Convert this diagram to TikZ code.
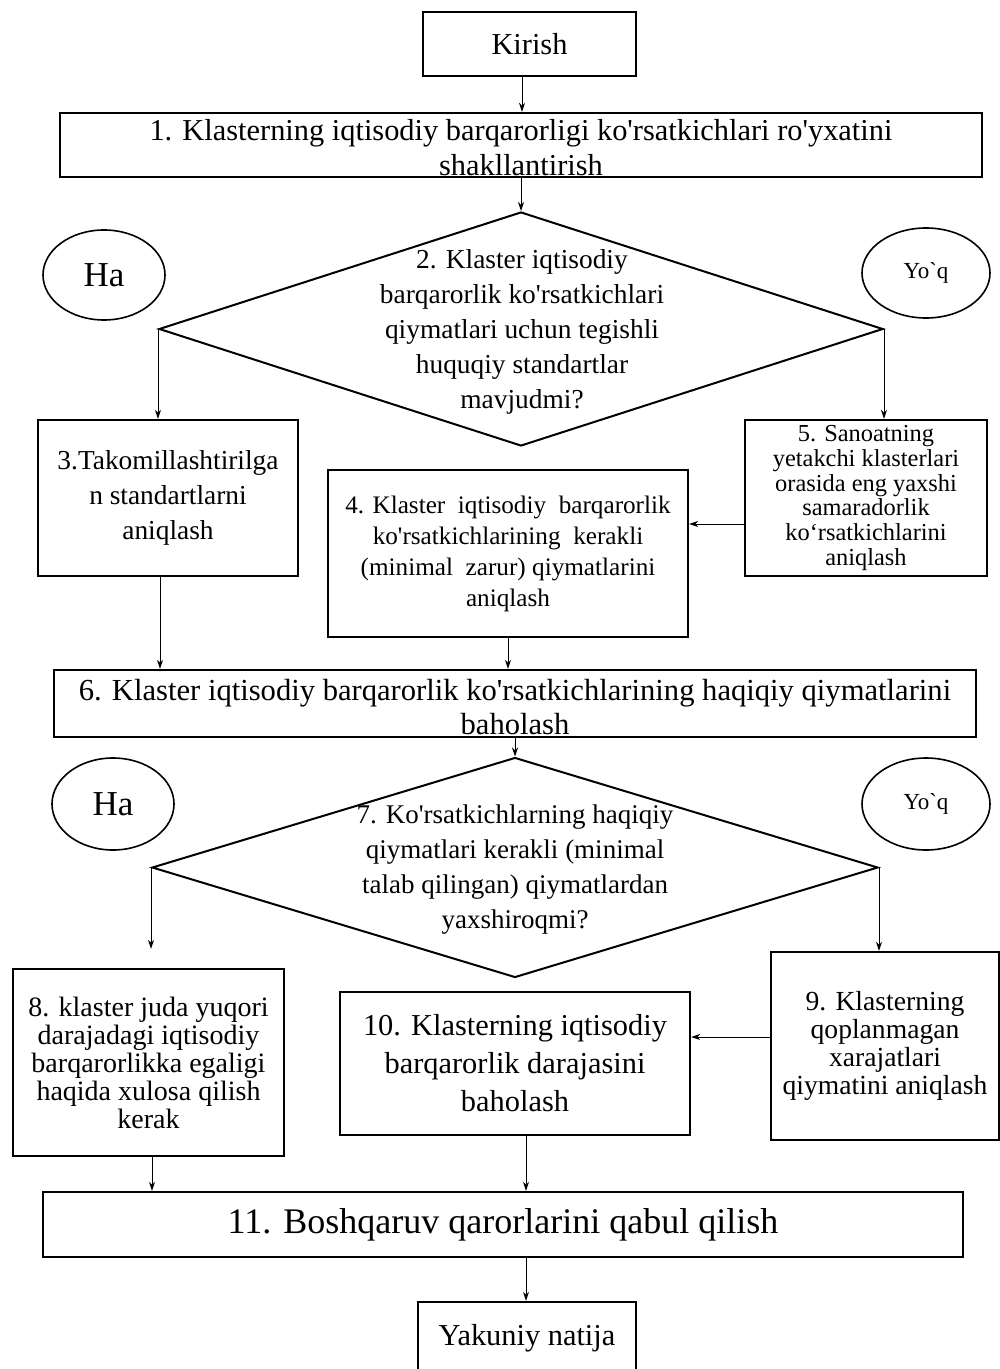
\documentclass[tikz,border=0pt]{standalone}
\usepackage{fontspec}
\newfontfamily\tnr{Liberation Serif}
\usetikzlibrary{shapes.geometric,arrows.meta}

\tikzset{
  box/.style={draw, line width=1.2pt, rectangle, inner sep=0pt, align=center},
  decision/.style={draw, line width=1pt, diamond, inner sep=0pt},
  reply/.style={draw, line width=0.8pt, ellipse, inner sep=0pt},
  lbl/.style={align=center, inner sep=0pt},
  flow/.style={-{Stealth[length=4.5pt,width=3pt]}, line width=0.5pt},
}

\begin{document}
\begin{tikzpicture}[x=0.5pt,y=-0.5pt]
\useasboundingbox[fill=white] (0,0) rectangle (1000,1369);

% helper columns and rows for the connectors
\coordinate (xa) at (522,0);
\coordinate (xb) at (160,0);
\coordinate (xc) at (152,0);
\coordinate (xd) at (526,0);
\coordinate (ya) at (0,524);
\coordinate (yb) at (0,1037);

% start
\node[box, minimum width=106.5pt, minimum height=32pt,
      font={\tnr\fontsize{15.2}{17.5}\selectfont}] (kir) at (529.5,44) {Kirish};

% step 1
\node[box, minimum width=461pt, minimum height=32pt] (b1) at (521,145) {};
\node[lbl, font={\tnr\fontsize{15.2}{17.5}\selectfont}] (t1) at (521,148)
  {1. Klasterning iqtisodiy barqarorligi ko'rsatkichlari ro'yxatini\\shakllantirish};

% decision 2
\node[decision, minimum width=362pt, minimum height=117pt] (d1) at (521,329) {};
\node[lbl, font={\tnr\fontsize{13.7}{17.5}\selectfont}] (t2) at (522,332)
  {2. Klaster iqtisodiy\\barqarorlik ko'rsatkichlari\\qiymatlari uchun tegishli\\huquqiy standartlar\\mavjudmi?};

\node[reply, minimum width=61pt, minimum height=45pt,
      font={\tnr\fontsize{17.5}{20}\selectfont}] (ha1) at (104,275) {Ha};
\node[reply, minimum width=64pt, minimum height=45pt,
      font={\tnr\fontsize{11.5}{13}\selectfont}] (yq1) at (926,273) {Yo`q};

% steps 3, 4, 5
\node[box, minimum width=130pt, minimum height=78pt,
      font={\tnr\fontsize{13.7}{17.5}\selectfont}] (b3) at (168,498)
  {3.Takomillashtirilga\\n standartlarni\\aniqlash};
\node[box, minimum width=121pt, minimum height=78pt,
      font={\tnr\fontsize{12.2}{12.4}\selectfont}] (b5) at (866,498)
  {5. Sanoatning\\yetakchi klasterlari\\orasida eng yaxshi\\samaradorlik\\ko‘rsatkichlarini\\aniqlash};
\node[box, minimum width=180pt, minimum height=83.5pt,
      font={\tnr\fontsize{12.6}{15.5}\selectfont}] (b4) at (508,553.5)
  {4. Klaster\ \ iqtisodiy\ \ barqarorlik\\ko'rsatkichlarining\ \ kerakli\\(minimal\ \ zarur)\ qiymatlarini\\aniqlash};

% step 6
\node[box, minimum width=461pt, minimum height=33.5pt] (b6) at (515,703.5) {};
\node[lbl, font={\tnr\fontsize{15.3}{17}\selectfont}] (t6) at (515,707)
  {6. Klaster iqtisodiy barqarorlik ko'rsatkichlarining haqiqiy qiymatlarini\\baholash};

% decision 7
\node[decision, minimum width=363pt, minimum height=110pt] (d2) at (515,867.5) {};
\node[lbl, font={\tnr\fontsize{13.5}{17.5}\selectfont}] (t7) at (515,870)
  {7. Ko'rsatkichlarning haqiqiy\\qiymatlari kerakli (minimal\\talab qilingan) qiymatlardan\\yaxshiroqmi?};

\node[reply, minimum width=61pt, minimum height=46pt,
      font={\tnr\fontsize{17.5}{20}\selectfont}] (ha2) at (113,804) {Ha};
\node[reply, minimum width=64pt, minimum height=46pt,
      font={\tnr\fontsize{11.5}{13}\selectfont}] (yq2) at (926,804) {Yo`q};

% steps 8, 9, 10
\node[box, minimum width=135.5pt, minimum height=93.5pt,
      font={\tnr\fontsize{14}{14}\selectfont}] (b8) at (148.5,1062.5)
  {8. klaster juda yuqori\\darajadagi iqtisodiy\\barqarorlikka egaligi\\haqida xulosa qilish\\kerak};
\node[box, minimum width=175pt, minimum height=71.5pt,
      font={\tnr\fontsize{15.2}{19}\selectfont}] (b10) at (515,1063.5)
  {10. Klasterning iqtisodiy\\barqarorlik darajasini\\baholash};
\node[box, minimum width=114pt, minimum height=94pt,
      font={\tnr\fontsize{13.8}{14}\selectfont}] (b9) at (885,1046)
  {9. Klasterning\\qoplanmagan\\xarajatlari\\qiymatini aniqlash};

% step 11 and result
\node[box, minimum width=460pt, minimum height=32.5pt,
      font={\tnr\fontsize{18}{21}\selectfont}] (b11) at (503,1224.5)
  {11. Boshqaruv qarorlarini qabul qilish};
\node[box, minimum width=109pt, minimum height=36pt,
      font={\tnr\fontsize{15.2}{17.5}\selectfont}] (yak) at (527,1338)
  {Yakuniy natija};

% connectors
\draw[flow] (kir.south -| xa) -- (b1.north -| xa);
\draw[flow] (b1.south -| d1.north) -- (d1.north);
\draw[flow] (d1.west) -- (d1.west |- b3.north);
\draw[flow] (d1.east) -- (d1.east |- b5.north);
\draw[flow] (b5.west |- ya) -- (b4.east |- ya);
\draw[flow] (b3.south -| xb) -- (b6.north -| xb);
\draw[flow] (b4.south) -- (b4.south |- b6.north);
\draw[flow] (b6.south -| d2.north) -- (d2.north);
\draw[flow, shorten >=9.5pt] (d2.west) -- (d2.west |- b8.north);
\draw[flow] (d2.east) -- (d2.east |- b9.north);
\draw[flow] (b9.west |- yb) -- (b10.east |- yb);
\draw[flow] (b8.south -| xc) -- (b11.north -| xc);
\draw[flow] (b10.south -| xd) -- (b11.north -| xd);
\draw[flow] (b11.south -| xd) -- (yak.north -| xd);
\end{tikzpicture}
\end{document}
